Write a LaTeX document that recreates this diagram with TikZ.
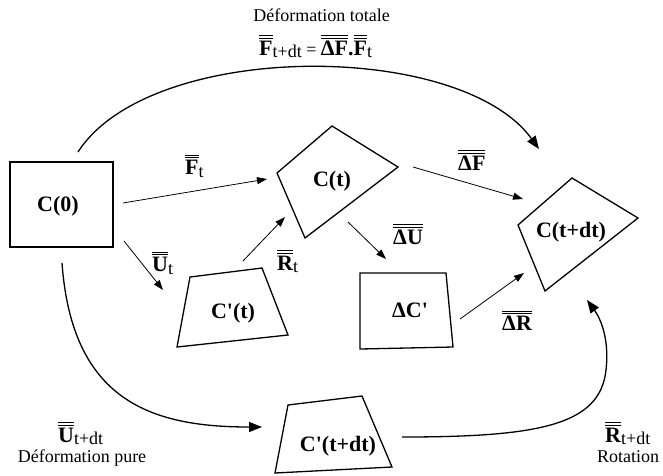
\documentclass[tikz,border=0pt]{standalone}
\usepackage{fontspec}
\setmainfont{Liberation Serif}
\usetikzlibrary{arrows.meta}
\newcommand\dbar[1]{\vbox{\offinterlineskip\hrule height .9pt\kern 1.6pt\hrule height .9pt\kern 2pt\hbox{#1}}}
\newcommand\sbx[1]{\raisebox{-2.5pt}{\normalfont\fontsize{18}{20}\selectfont #1}}
\newcommand\qt{\textquotesingle}
\tikzset{
  shapeline/.style={line width=1.3pt, line join=miter},
  bigtxt/.style={inner sep=0pt, font=\fontsize{22}{26}\selectfont\bfseries},
  lbl/.style={inner sep=0pt, anchor=base west, font=\fontsize{22}{26}\selectfont\bfseries},
  plain/.style={inner sep=0pt, anchor=base, font=\fontsize{18}{21}\selectfont},
  thinarrow/.style={line width=0.8pt, -{Triangle[length=10pt,width=7pt]}},
  curvearrow/.style={line width=1.3pt, -{Triangle[length=13pt,width=10pt]}},
  curveline/.style={line width=1.3pt},
}
\begin{document}
\begin{tikzpicture}[x=1pt,y=-1pt]
\useasboundingbox (0,0) rectangle (663,475);
% shapes
\draw[shapeline] (10,162) rectangle (113,247);
\node[bigtxt] (c0) at (58,206) {C(0)};
\draw[shapeline] (190,277) -- (262,268) -- (288,335) -- (177,347) -- cycle;
\node[bigtxt] (cpt) at (233,313) {C\qt(t)};
\draw[shapeline] (277,173) -- (332,126) -- (398,167) -- (305,238) -- cycle;
\node[bigtxt] (ct) at (332,181) {C(t)};
\draw[shapeline] (360,273) -- (446,273) -- (453,347) -- (360,349) -- cycle;
\node[bigtxt] (dc) at (410,310) {ΔC\qt};
\draw[shapeline] (518,225) -- (572,178) -- (638,218) -- (545,291) -- cycle;
\node[bigtxt] (ctdt) at (571,232) {C(t+dt)};
\draw[shapeline] (288,405) -- (362,396) -- (392,467) -- (275,473) -- cycle;
\node[bigtxt] (cptdt) at (338,446) {C\qt(t+dt)};
% arrow end points
\coordinate (a1s) at (123,203); \coordinate (a1e) at (267,179);
\coordinate (a2s) at (124,241); \coordinate (a2e) at (163,290);
\coordinate (a3s) at (243,261); \coordinate (a3e) at (285,217);
\coordinate (a4s) at (413,167); \coordinate (a4e) at (523,199);
\coordinate (a5s) at (348,222); \coordinate (a5e) at (386,259);
\coordinate (a6s) at (460,319); \coordinate (a6e) at (524,273);
\coordinate (t0) at (78,152); \coordinate (t1) at (539,149);
\coordinate (l0) at (62,263); \coordinate (l1) at (262,427);
\coordinate (r0) at (402,437); \coordinate (rm) at (606,370); \coordinate (r1) at (587,300);
% straight arrows
\draw[thinarrow] (a1s) -- (a1e);
\draw[thinarrow] (a2s) -- (a2e);
\draw[thinarrow] (a3s) -- (a3e);
\draw[thinarrow] (a4s) -- (a4e);
\draw[thinarrow] (a5s) -- (a5e);
\draw[thinarrow] (a6s) -- (a6e);
% curved arrows
\draw[curvearrow] (t0) .. controls (150,40) and (460,40) .. (t1);
\draw[curvearrow] (l0) .. controls (72,400) and (150,427) .. (l1);
\draw[curveline] (r0) .. controls (540,437) and (600,425) .. (rm);
\draw[curvearrow] (rm) .. controls (610,335) and (598,315) .. (r1);
% labels
\node[lbl] (lFt) at (185,174.5) {\dbar{F}\sbx{t}};
\node[lbl] (lUt) at (152,271.7) {\dbar{U}\sbx{t}};
\node[lbl] (lRt) at (277,270) {\dbar{R}\sbx{t}};
\node[lbl] (lDF) at (458,170) {\dbar{ΔF}};
\node[lbl] (lDU) at (393,244) {\dbar{ΔU}};
\node[lbl] (lDR) at (502,330.7) {\dbar{ΔR}};
\node[lbl] (lUtdt) at (58,442) {\dbar{U}\sbx{t+dt}};
\node[plain] (dp) at (82,462) {Déformation pure};
\node[lbl] (lRtdt) at (605,442) {\dbar{R}\sbx{t+dt}};
\node[plain] (rot) at (628,462) {Rotation};
\node[plain] (title) at (321.7,21.7) {Déformation totale};
\node[lbl] (eq) at (259,55) {\dbar{F}\sbx{t+dt}\normalfont\fontsize{18}{20}\selectfont{} = \bfseries\fontsize{22}{26}\selectfont\dbar{ΔF}.\dbar{F}\sbx{t}};
\end{tikzpicture}
\end{document}
